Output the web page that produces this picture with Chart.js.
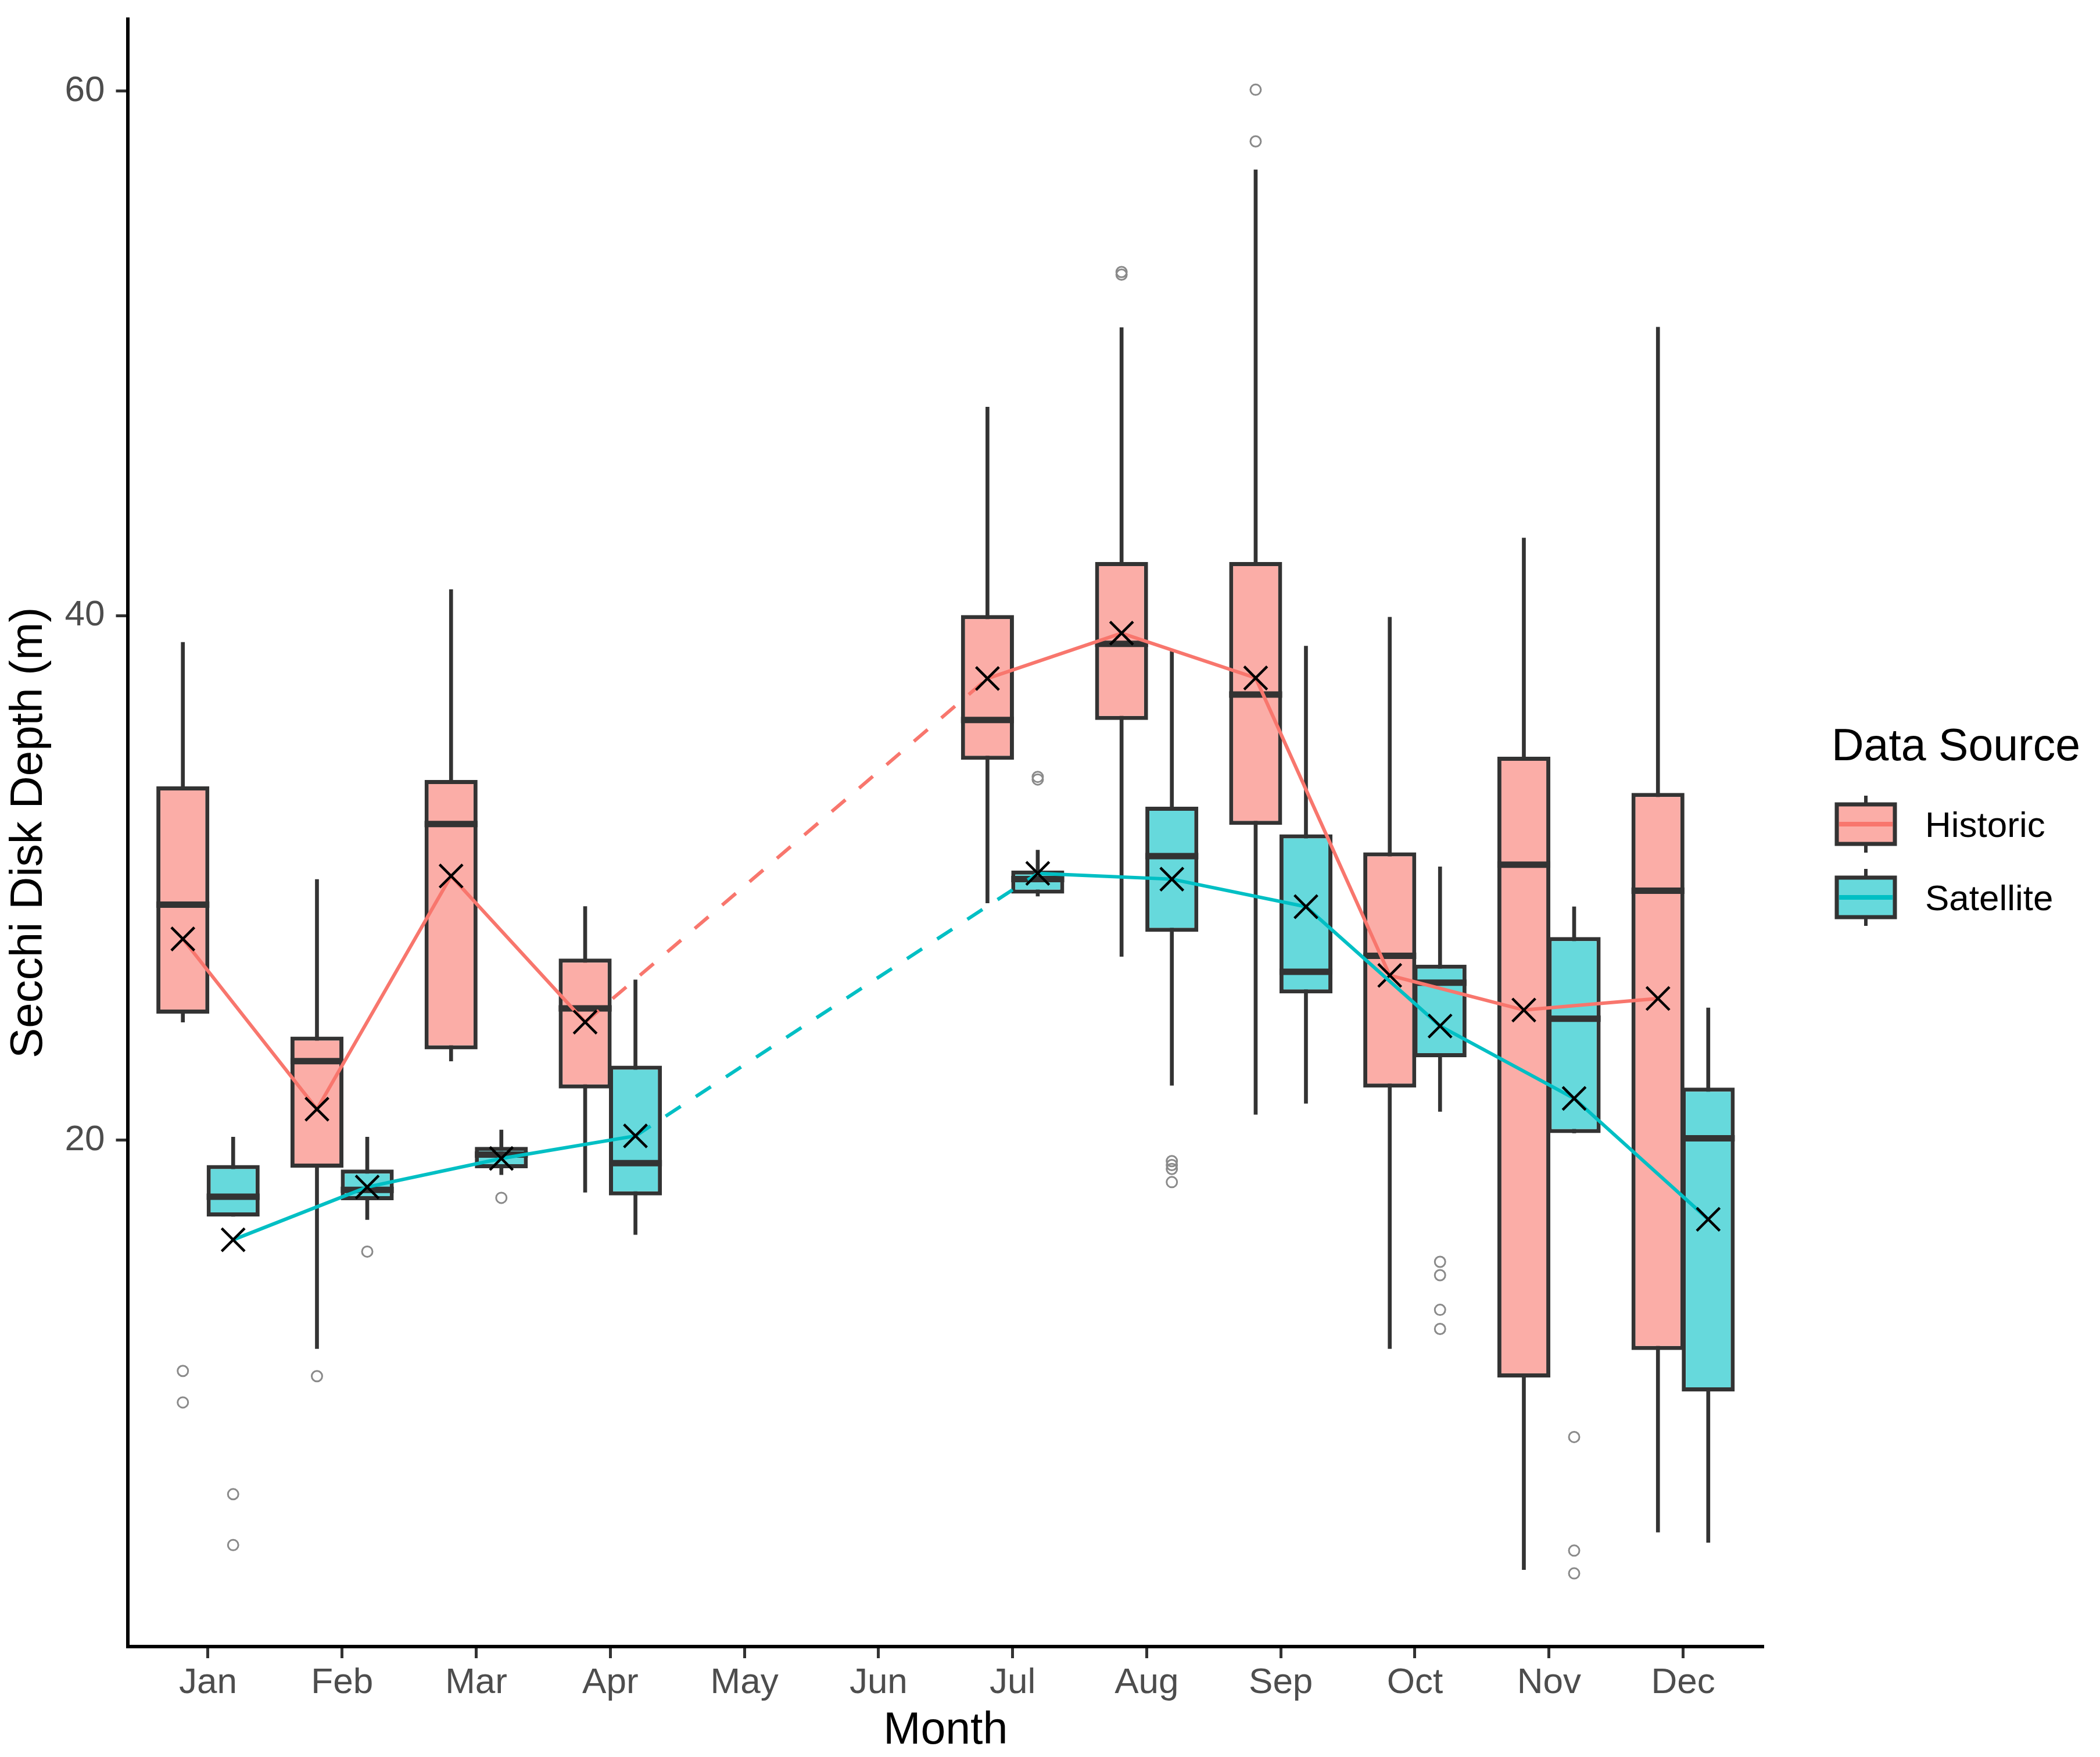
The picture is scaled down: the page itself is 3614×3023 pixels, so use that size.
<!DOCTYPE html>
<html>
<head>
<meta charset="utf-8">
<script src="https://cdn.jsdelivr.net/npm/chart.js@4.4.1/dist/chart.umd.min.js"></script>
<style>
html,body{margin:0;padding:0;background:#ffffff;}
canvas{display:block;}
</style>
</head>
<body>
<canvas id="c" width="3614" height="3023" style="width:3614px;height:3023px"></canvas>
<script>
// ---------- data ----------
const MONTHS = ['Jan','Feb','Mar','Apr','May','Jun','Jul','Aug','Sep','Oct','Nov','Dec'];
const DATA_MONTHS = [1, 2, 3, 4, 7, 8, 9, 10, 11, 12];
const Y_TICKS = [20, 40, 60];

const HIST_Q1   = [24.82, 18.95, 23.46, 21.97, 34.50, 36.02, 32.02, 22.00, 10.95, 12.00];
const HIST_MED  = [28.98, 23.01, 32.05, 25.02, 36.02, 38.92, 36.99, 27.03, 30.50, 29.51];
const HIST_Q3   = [33.49, 23.95, 33.73, 26.92, 40.02, 42.04, 42.04, 30.97, 34.62, 33.24];
const HIST_WLO  = [24.50, 12.05, 23.01, 18.01, 29.04, 27.00, 20.98, 12.05, 3.62, 5.05];
const HIST_WHI  = [38.98, 29.94, 40.99, 28.91, 47.95, 50.98, 57.00, 39.94, 42.96, 51.00];
const HIST_MEAN = [27.67, 21.18, 30.07, 24.50, 37.60, 39.33, 37.62, 26.28, 24.96, 25.40];
const HIST_OUT_MONTH = [1, 1, 2, 8, 8, 9, 9];
const HIST_OUT_VALUE = [11.20, 10.00, 11.00, 53.10, 53.00, 60.05, 58.08];

const SAT_Q1   = [17.09, 17.71, 18.93, 17.89, 29.40, 27.94, 25.59, 23.16, 20.27, 10.42];
const SAT_MED  = [17.84, 18.10, 19.45, 19.12, 29.95, 30.83, 26.42, 26.00, 24.63, 20.07];
const SAT_Q3   = [19.05, 18.88, 19.74, 22.84, 30.28, 32.71, 31.66, 26.69, 27.74, 22.00];
const SAT_WLO  = [17.09, 16.97, 18.68, 16.40, 29.30, 22.09, 21.40, 21.09, 20.27, 4.66];
const SAT_WHI  = [20.12, 20.12, 20.39, 26.11, 31.06, 38.64, 38.84, 30.42, 28.90, 25.04];
const SAT_MEAN = [16.20, 18.21, 19.30, 20.16, 30.17, 29.95, 28.90, 24.35, 21.59, 16.98];
const SAT_OUT_MONTH = [1, 1, 2, 3, 7, 7, 8, 8, 8, 8, 10, 10, 10, 10, 11, 11, 11];
const SAT_OUT_VALUE = [6.50, 4.56, 15.75, 17.80, 33.85, 33.75, 19.20, 19.05, 18.90, 18.40, 15.36, 14.85, 13.53, 12.80, 8.68, 4.35, 3.48];

// ---------- layout / style constants ----------
const W = 3614, H = 3023;
const AREA = { left: 219.5, right: 3035, top: 20, bottom: 2833 };
const DODGE = 0.1875;          // half of dodge width (category units)
const BOX_W = 0.395;           // box width (category units)
const FONT = "'Liberation Sans', Arial, Helvetica, sans-serif";
const COL = {
  hist: '#F8766D', histFill: '#FBADA7',
  sat: '#00BFC4',  satFill: '#66D9DC',
  ink: '#333333', outlier: '#8a8a8a'
};

Chart.defaults.font.family = FONT;

function boxData(q1, q3, off) { return DATA_MONTHS.map((m, i) => ({ x: m + off, y: [q1[i], q3[i]] })); }
function whiskerData(lo, hi, off) { return DATA_MONTHS.map((m, i) => ({ x: m + off, y: [lo[i], hi[i]] })); }
function pointData(vals, off) { return DATA_MONTHS.map((m, i) => ({ x: m + off, y: vals[i] })); }
function outlierData(months, vals, off) { return months.map((m, i) => ({ x: m + off, y: vals[i] })); }

function halfBoxPx(ctx) {
  const s = ctx.chart.scales.x;
  return Math.abs(s.getPixelForValue(BOX_W) - s.getPixelForValue(0)) / 2;
}
const gapDash = ctx => (ctx.p1.parsed.x - ctx.p0.parsed.x > 1.5 ? [31, 31] : undefined);

const barPct = BOX_W / (2 * DODGE);

// ---------- custom legend (box glyphs) ----------
const LEGEND = {
  titleX: 3152, titleBase: 1308, titleSize: 77,
  glyphX: 3211, boxW: 100, boxH: 68, whisk: 15,
  textX: 3313, textSize: 62,
  items: [
    { label: 'Historic', fill: COL.histFill, line: COL.hist, cy: 1418 },
    { label: 'Satellite', fill: COL.satFill, line: COL.sat, cy: 1544 }
  ]
};
const legendPlugin = {
  id: 'boxLegend',
  afterDraw(chart) {
    const ctx = chart.ctx;
    ctx.save();
    ctx.fillStyle = '#000';
    ctx.textAlign = 'left';
    ctx.textBaseline = 'alphabetic';
    ctx.font = LEGEND.titleSize + 'px ' + FONT;
    ctx.fillText('Data Source', LEGEND.titleX, LEGEND.titleBase);
    LEGEND.items.forEach(it => {
      const x0 = LEGEND.glyphX - LEGEND.boxW / 2, y0 = it.cy - LEGEND.boxH / 2;
      ctx.strokeStyle = COL.ink; ctx.lineWidth = 6;
      ctx.beginPath();
      ctx.moveTo(LEGEND.glyphX, y0 - LEGEND.whisk); ctx.lineTo(LEGEND.glyphX, y0);
      ctx.moveTo(LEGEND.glyphX, y0 + LEGEND.boxH); ctx.lineTo(LEGEND.glyphX, y0 + LEGEND.boxH + LEGEND.whisk);
      ctx.stroke();
      ctx.fillStyle = it.fill;
      ctx.fillRect(x0, y0, LEGEND.boxW, LEGEND.boxH);
      ctx.lineWidth = 7;
      ctx.strokeRect(x0, y0, LEGEND.boxW, LEGEND.boxH);
      ctx.strokeStyle = it.line; ctx.lineWidth = 8;
      ctx.beginPath();
      ctx.moveTo(x0 + 4, it.cy); ctx.lineTo(x0 + LEGEND.boxW - 4, it.cy);
      ctx.stroke();
      ctx.fillStyle = '#000';
      ctx.font = LEGEND.textSize + 'px ' + FONT;
      ctx.fillText(it.label, LEGEND.textX, it.cy + 22);
    });
    ctx.restore();
  }
};

const whiteBg = {
  id: 'whiteBg',
  beforeDraw(chart) { const c = chart.ctx; c.save(); c.fillStyle = '#fff'; c.fillRect(0, 0, chart.width, chart.height); c.restore(); }
};

const tickFont = { family: FONT, size: 62 };

new Chart(document.getElementById('c'), {
  type: 'bar',
  data: {
    datasets: [
      { label: 'Historic whiskers', data: whiskerData(HIST_WLO, HIST_WHI, -DODGE), backgroundColor: COL.ink, borderWidth: 0, barThickness: 6, grouped: false, order: 10 },
      { label: 'Satellite whiskers', data: whiskerData(SAT_WLO, SAT_WHI, DODGE), backgroundColor: COL.ink, borderWidth: 0, barThickness: 6, grouped: false, order: 10 },
      { label: 'Historic', data: boxData(HIST_Q1, HIST_Q3, -DODGE), backgroundColor: COL.histFill, borderColor: COL.ink, borderWidth: 7, borderSkipped: false, grouped: false, categoryPercentage: 1, barPercentage: barPct, order: 8 },
      { label: 'Satellite', data: boxData(SAT_Q1, SAT_Q3, DODGE), backgroundColor: COL.satFill, borderColor: COL.ink, borderWidth: 7, borderSkipped: false, grouped: false, categoryPercentage: 1, barPercentage: barPct, order: 8 },
      { type: 'scatter', label: 'Historic median', data: pointData(HIST_MED, -DODGE), pointStyle: 'line', pointRadius: halfBoxPx, pointBorderWidth: 11, pointBorderColor: COL.ink, order: 6 },
      { type: 'scatter', label: 'Satellite median', data: pointData(SAT_MED, DODGE), pointStyle: 'line', pointRadius: halfBoxPx, pointBorderWidth: 11, pointBorderColor: COL.ink, order: 6 },
      { type: 'scatter', label: 'Historic outliers', data: outlierData(HIST_OUT_MONTH, HIST_OUT_VALUE, -DODGE), pointStyle: 'circle', pointRadius: 9, pointBorderWidth: 3, pointBorderColor: COL.outlier, pointBackgroundColor: 'rgba(255,255,255,0)', order: 5 },
      { type: 'scatter', label: 'Satellite outliers', data: outlierData(SAT_OUT_MONTH, SAT_OUT_VALUE, DODGE), pointStyle: 'circle', pointRadius: 9, pointBorderWidth: 3, pointBorderColor: COL.outlier, pointBackgroundColor: 'rgba(255,255,255,0)', order: 5 },
      { type: 'line', label: 'Historic mean', data: pointData(HIST_MEAN, -DODGE), borderColor: COL.hist, borderWidth: 6, fill: false, tension: 0,
        pointStyle: 'crossRot', pointRadius: 28, pointBorderWidth: 4.5, pointBorderColor: '#000', pointBackgroundColor: 'rgba(0,0,0,0)',
        segment: { borderDash: gapDash }, order: 2 },
      { type: 'line', label: 'Satellite mean', data: pointData(SAT_MEAN, DODGE), borderColor: COL.sat, borderWidth: 6, fill: false, tension: 0,
        pointStyle: 'crossRot', pointRadius: 28, pointBorderWidth: 4.5, pointBorderColor: '#000', pointBackgroundColor: 'rgba(0,0,0,0)',
        segment: { borderDash: gapDash }, order: 1 }
    ]
  },
  options: {
    responsive: false,
    maintainAspectRatio: false,
    devicePixelRatio: 1,
    animation: false,
    events: [],
    layout: { padding: { left: 0, top: AREA.top, right: W - AREA.right, bottom: 0 } },
    plugins: { legend: { display: false }, tooltip: { enabled: false }, title: { display: false } },
    scales: {
      x: {
        type: 'linear', min: 0.4, max: 12.6, offset: false,
        afterBuildTicks: s => { s.ticks = MONTHS.map((_, i) => ({ value: i + 1 })); },
        afterFit: s => { s.height = H - AREA.bottom; s.paddingLeft = 0; s.paddingRight = 0; },
        ticks: { callback: v => MONTHS[Math.round(v) - 1] || '', font: tickFont, color: '#4D4D4D', padding: 6, maxRotation: 0, autoSkip: false },
        grid: { offset: false, drawOnChartArea: false, drawTicks: true, tickLength: 20, tickWidth: 5, tickColor: COL.ink },
        border: { display: true, color: '#000', width: 6 },
        title: { display: true, text: 'Month', color: '#000', font: { family: FONT, size: 77, lineHeight: 1 }, padding: { top: 0, bottom: 6 } }
      },
      y: {
        type: 'linear', min: 0.69, max: 62.75,
        afterBuildTicks: s => { s.ticks = Y_TICKS.map(v => ({ value: v })); },
        afterFit: s => { s.width = AREA.left; s.paddingTop = 0; s.paddingBottom = 0; },
        ticks: { font: tickFont, color: '#4D4D4D', padding: 19 },
        grid: { offset: false, drawOnChartArea: false, drawTicks: true, tickLength: 20, tickWidth: 5, tickColor: COL.ink },
        border: { display: true, color: '#000', width: 6 },
        title: { display: true, text: 'Secchi Disk Depth (m)', color: '#000', font: { family: FONT, size: 78, lineHeight: 1 }, padding: { top: 11, bottom: 0 } }
      }
    }
  },
  plugins: [whiteBg, legendPlugin]
});
</script>
</body>
</html>
